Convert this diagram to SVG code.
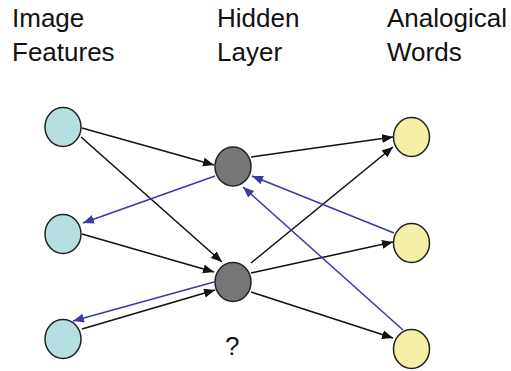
<svg xmlns="http://www.w3.org/2000/svg" width="511" height="371" viewBox="0 0 511 371">
<style>
text{font-family:"Liberation Sans",Arial,sans-serif;font-size:26px;fill:#111}
.in{fill:#b6dfe2;stroke:#222;stroke-width:1.5}
.hid{fill:#777;stroke:#222;stroke-width:1.5}
.out{fill:#f5f0a6;stroke:#222;stroke-width:1.5}
.k{stroke:#111;stroke-width:1.6;fill:none;marker-end:url(#ak)}
.b{stroke:#3a3aa8;stroke-width:1.6;fill:none;marker-end:url(#ab)}
</style>
<defs>
<marker id="ak" markerUnits="userSpaceOnUse" markerWidth="12" markerHeight="10" refX="11" refY="4.5" orient="auto"><path d="M0,0 L11,4.5 L0,9 z" fill="#111"/></marker>
<marker id="ab" markerUnits="userSpaceOnUse" markerWidth="12" markerHeight="10" refX="11" refY="4.5" orient="auto"><path d="M0,0 L11,4.5 L0,9 z" fill="#3a3aa8"/></marker>
</defs>
<rect width="511" height="371" fill="#fff"/>
<g id="labels">
<text x="12" y="27">Image</text>
<text x="12" y="61">Features</text>
<text x="217" y="27">Hidden</text>
<text x="217" y="61">Layer</text>
<text x="387" y="27">Analogical</text>
<text x="387" y="61">Words</text>
<text x="225" y="355">?</text>
</g>
<g id="connectors">
<line class="k" x1="82" y1="128" x2="214" y2="165"/>
<line class="k" x1="81" y1="137" x2="222" y2="262"/>
<line class="k" x1="82" y1="234" x2="214" y2="272"/>
<line class="k" x1="82" y1="329" x2="215" y2="290"/>
<line class="k" x1="251" y1="157" x2="393" y2="137"/>
<line class="k" x1="251" y1="263" x2="393" y2="147"/>
<line class="k" x1="251" y1="273" x2="393" y2="242"/>
<line class="k" x1="251" y1="292" x2="393" y2="338"/>
<line class="b" x1="215" y1="176" x2="83" y2="223"/>
<line class="b" x1="214" y1="282" x2="73" y2="321"/>
<line class="b" x1="394" y1="233" x2="252" y2="176"/>
<line class="b" x1="403" y1="330" x2="243" y2="187"/>
</g>
<g id="in1"><ellipse class="in" cx="63" cy="127" rx="18" ry="19.5"/></g>
<g id="in2"><ellipse class="in" cx="63" cy="234" rx="18" ry="19.5"/></g>
<g id="in3"><ellipse class="in" cx="63" cy="339" rx="18" ry="19.5"/></g>
<g id="h1"><ellipse class="hid" cx="233" cy="166.5" rx="18" ry="19.5"/></g>
<g id="h2"><ellipse class="hid" cx="233" cy="282" rx="18" ry="19.5"/></g>
<g id="o1"><ellipse class="out" cx="411.5" cy="137" rx="18" ry="19.5"/></g>
<g id="o2"><ellipse class="out" cx="411.5" cy="243" rx="18" ry="19.5"/></g>
<g id="o3"><ellipse class="out" cx="411.5" cy="349" rx="18" ry="19.5"/></g>
</svg>
